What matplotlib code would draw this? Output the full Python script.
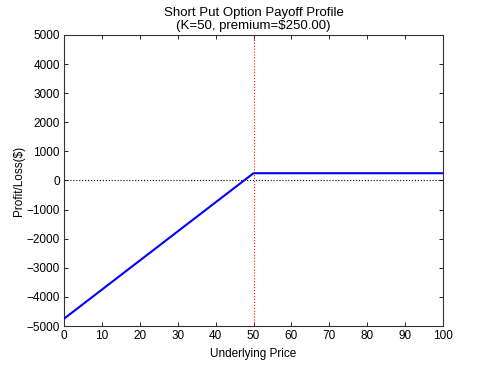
import matplotlib
matplotlib.use("Agg")
import matplotlib.pyplot as plt

# Datos
strike = 50
premium = 250.00
underlying_price = [0, 50, 100]
profit_loss = [-4750, 250, 250]
x_ticks = list(range(0, 101, 10))
y_ticks = list(range(-5000, 5001, 1000))

plt.rcParams['font.family'] = ['Liberation Sans', 'DejaVu Sans']
plt.rcParams['font.size'] = 8.5

fig = plt.figure(figsize=(4.9, 3.67), dpi=100)
ax = fig.add_axes([0.1306, 0.1117, 0.7735, 0.793])

ax.plot(underlying_price, profit_loss, color='blue', linewidth=1.5, zorder=3)
ax.axhline(0, color='black', linestyle=':', linewidth=0.8)
ax.axvline(strike, color='red', linestyle=':', linewidth=0.8)

ax.set_xlim(0, 100)
ax.set_ylim(-5000, 5000)
ax.set_xticks(x_ticks)
ax.set_yticks(y_ticks)
ax.tick_params(direction='in', length=3, width=0.6, top=True, right=True, pad=3)
for s in ax.spines.values():
    s.set_linewidth(0.8)
    s.set_color('#333333')

ax.set_xlabel("Underlying Price", labelpad=4)
ax.set_ylabel("Profit/Loss($)", labelpad=1)
ax.set_title(f"Short Put Option Payoff Profile\n(K={strike}, premium=${premium:.2f})",
             fontsize=9.5, pad=4, linespacing=1.15)

fig.savefig("out.png", dpi=100)
